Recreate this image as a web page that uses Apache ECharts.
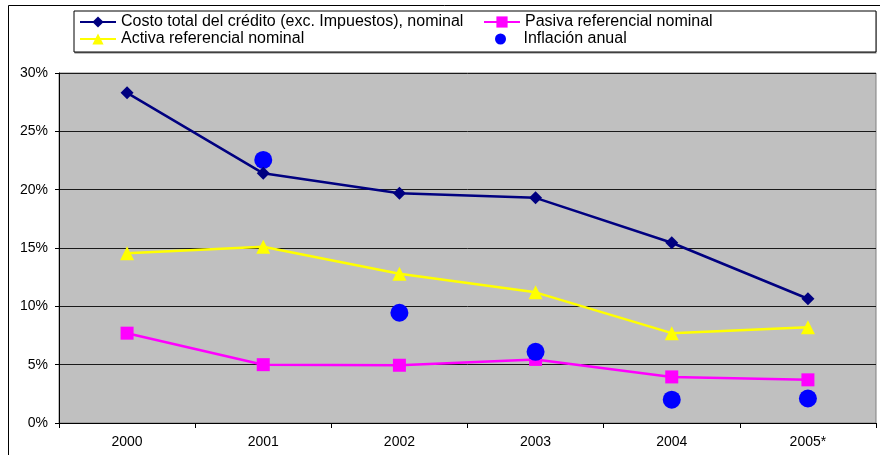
<!DOCTYPE html>
<html>
<head>
<meta charset="utf-8">
<script src="https://cdn.jsdelivr.net/npm/echarts@6/dist/echarts.min.js"></script>
<style>
  html, body { margin: 0; padding: 0; background: #ffffff; }
  #chart { width: 880px; height: 455px; }
</style>
</head>
<body>
<div id="chart"></div>
<script>
// Years on the category axis
const years = ['2000', '2001', '2002', '2003', '2004', '2005*'];

// Rates in percent
const costoTotal = [28.3, 21.4, 19.7, 19.3, 15.45, 10.65];
const pasiva = [7.7, 5.0, 4.95, 5.45, 3.95, 3.7];
const activa = [14.55, 15.1, 12.8, 11.2, 7.7, 8.2];
const inflacion = [null, 22.55, 9.45, 6.1, 2.0, 2.1];

// Value-axis ticks
const yTicks = [0, 5, 10, 15, 20, 25, 30];

const names = {
  costo: 'Costo total del crédito (exc. Impuestos), nominal',
  pasiva: 'Pasiva referencial nominal',
  activa: 'Activa referencial nominal',
  inflacion: 'Inflación anual'
};

const FONT = '"Liberation Sans", Arial, sans-serif';

const chart = echarts.init(document.getElementById('chart'), null, { renderer: 'canvas' });

const legendText = { fontFamily: FONT, fontSize: 16, color: '#000', lineHeight: 16 };
const legendBase = {
  orient: 'vertical', z: 5, itemWidth: 36, itemGap: 1, padding: 0,
  textStyle: legendText
};

chart.setOption({
  animation: false,
  backgroundColor: '#ffffff',
  textStyle: { fontFamily: FONT },
  graphic: [
    // outer frame
    {
      type: 'rect', left: 8, top: 5, z: -10, silent: true,
      shape: { x: 0, y: 0, width: 890, height: 470 },
      style: { fill: '#ffffff', stroke: '#000', lineWidth: 1 }
    },
    // legend box shadow
    {
      type: 'rect', left: 74.5, top: 11.5, z: 1, silent: true,
      shape: { x: 0, y: 0, width: 802, height: 42 },
      style: { fill: '#808080' }
    },
    // legend box
    {
      type: 'rect', left: 73.5, top: 10.5, z: 2, silent: true,
      shape: { x: 0, y: 0, width: 802, height: 41 },
      style: { fill: '#ffffff', stroke: '#000', lineWidth: 1 }
    }
  ],
  legend: [
    Object.assign({}, legendBase, {
      left: 79, top: 14, itemHeight: 14,
      data: [names.costo, names.activa]
    }),
    Object.assign({}, legendBase, {
      left: 483, top: 14, itemHeight: 14,
      data: [names.pasiva]
    }),
    Object.assign({}, legendBase, {
      left: 495, top: 31, itemHeight: 11,
      data: [{ name: names.inflacion, icon: 'circle' }]
    })
  ],
  grid: {
    left: 59, top: 73, width: 817, height: 350,
    show: true, backgroundColor: '#C0C0C0', borderColor: '#808080', borderWidth: 1
  },
  xAxis: {
    type: 'category',
    data: years,
    boundaryGap: true,
    axisLine: { show: true, lineStyle: { color: '#000', width: 1 } },
    axisTick: { show: true, length: 5, inside: false, lineStyle: { color: '#000' } },
    axisLabel: { margin: 12, fontFamily: FONT, fontSize: 14, color: '#000' },
    splitLine: { show: false }
  },
  yAxis: {
    type: 'value',
    min: yTicks[0],
    max: yTicks[yTicks.length - 1],
    interval: yTicks[1] - yTicks[0],
    axisLine: { show: true, lineStyle: { color: '#000', width: 1 } },
    axisTick: { show: true, length: 4, lineStyle: { color: '#000' } },
    axisLabel: { margin: 11, fontFamily: FONT, fontSize: 14, color: '#000', formatter: '{value}%' },
    splitLine: { show: true, lineStyle: { color: '#1a1a1a', width: 1 } }
  },
  series: [
    {
      name: names.pasiva, type: 'line', data: pasiva, z: 2,
      symbol: 'rect', symbolSize: 13,
      lineStyle: { color: '#FF00FF', width: 2.5 },
      itemStyle: { color: '#FF00FF' }
    },
    {
      name: names.activa, type: 'line', data: activa, z: 2,
      symbol: 'triangle', symbolSize: 14,
      lineStyle: { color: '#FFFF00', width: 2.5 },
      itemStyle: { color: '#FFFF00' }
    },
    {
      name: names.inflacion, type: 'scatter', data: inflacion, z: 3,
      symbol: 'circle', symbolSize: 18,
      itemStyle: { color: '#0000FF', opacity: 1 }
    },
    {
      name: names.costo, type: 'line', data: costoTotal, z: 4,
      symbol: 'diamond', symbolSize: 13,
      lineStyle: { color: '#000080', width: 2.5 },
      itemStyle: { color: '#000080' }
    }
  ]
});
</script>
</body>
</html>
